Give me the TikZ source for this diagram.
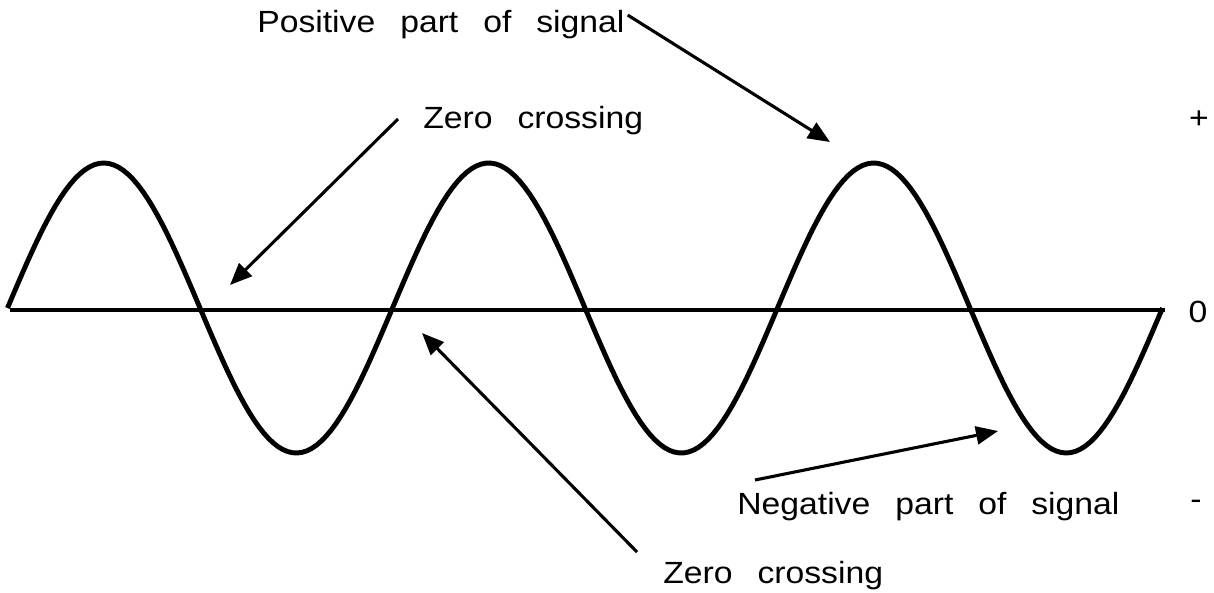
\documentclass[tikz,border=0pt]{standalone}
\usepackage{fontspec}
\setmainfont[FakeStretch=1.1, WordSpace=2.66]{Liberation Sans}
\usepackage{tikz}
\usetikzlibrary{arrows.meta, positioning, calc}
\definecolor{inkblack}{RGB}{0,0,0}
\tikzset{
  label/.style={inner sep=0pt, font=\fontsize{21.8pt}{26pt}\selectfont, text=inkblack},
  wave/.style={line width=3.5pt, color=inkblack, line join=round},
  axis/.style={line width=3.5pt, color=inkblack},
  pointer/.style={-{Triangle[length=0.55cm, width=0.45cm]}, line width=2.2pt, color=inkblack},
}

\begin{document}
\begin{tikzpicture}[x=0.025cm, y=-0.025cm]
  \useasboundingbox (0,0) rectangle (1214,592);

  % signal and zero line
  \draw[axis] (10,310) -- (1165,310);
  \draw[wave] plot[domain=7.5:1162.5, samples=240]
    (\x, {308 - 145*sin((\x-7.5)/385*360)});

  % level marks
  \node[label] (plus) at (1199,120) {+};
  \node[label] (zero) at (1198,312) {0};
  \node[label] (minus) at (1196,505) {-};

  % texts
  \node[label, anchor=base west] (postext) at (257,32) {Positive part of signal};
  \node[label, anchor=base west] (zctop) at (423,128) {Zero crossing};
  \node[label, anchor=base west] (zcbot) at (663,583) {Zero crossing};
  \node[label, anchor=base west] (negtext) at (737,514) {Negative part of signal};

  % arrow ends
  \coordinate (postip) at (830,142);
  \coordinate (zctoptail) at (398,119);
  \coordinate (zctoptip) at (230,285);
  \coordinate (zcbottail) at (637,552);
  \coordinate (zcbottip) at (422,333);
  \coordinate (negtail) at (755,480);
  \coordinate (negtip) at (998,431);

  \draw[pointer] ($(postext.east)+(3,-9)$) -- (postip);
  \draw[pointer] (zctoptail) -- (zctoptip);
  \draw[pointer] (zcbottail) -- (zcbottip);
  \draw[pointer] (negtail) -- (negtip);
\end{tikzpicture}
\end{document}
